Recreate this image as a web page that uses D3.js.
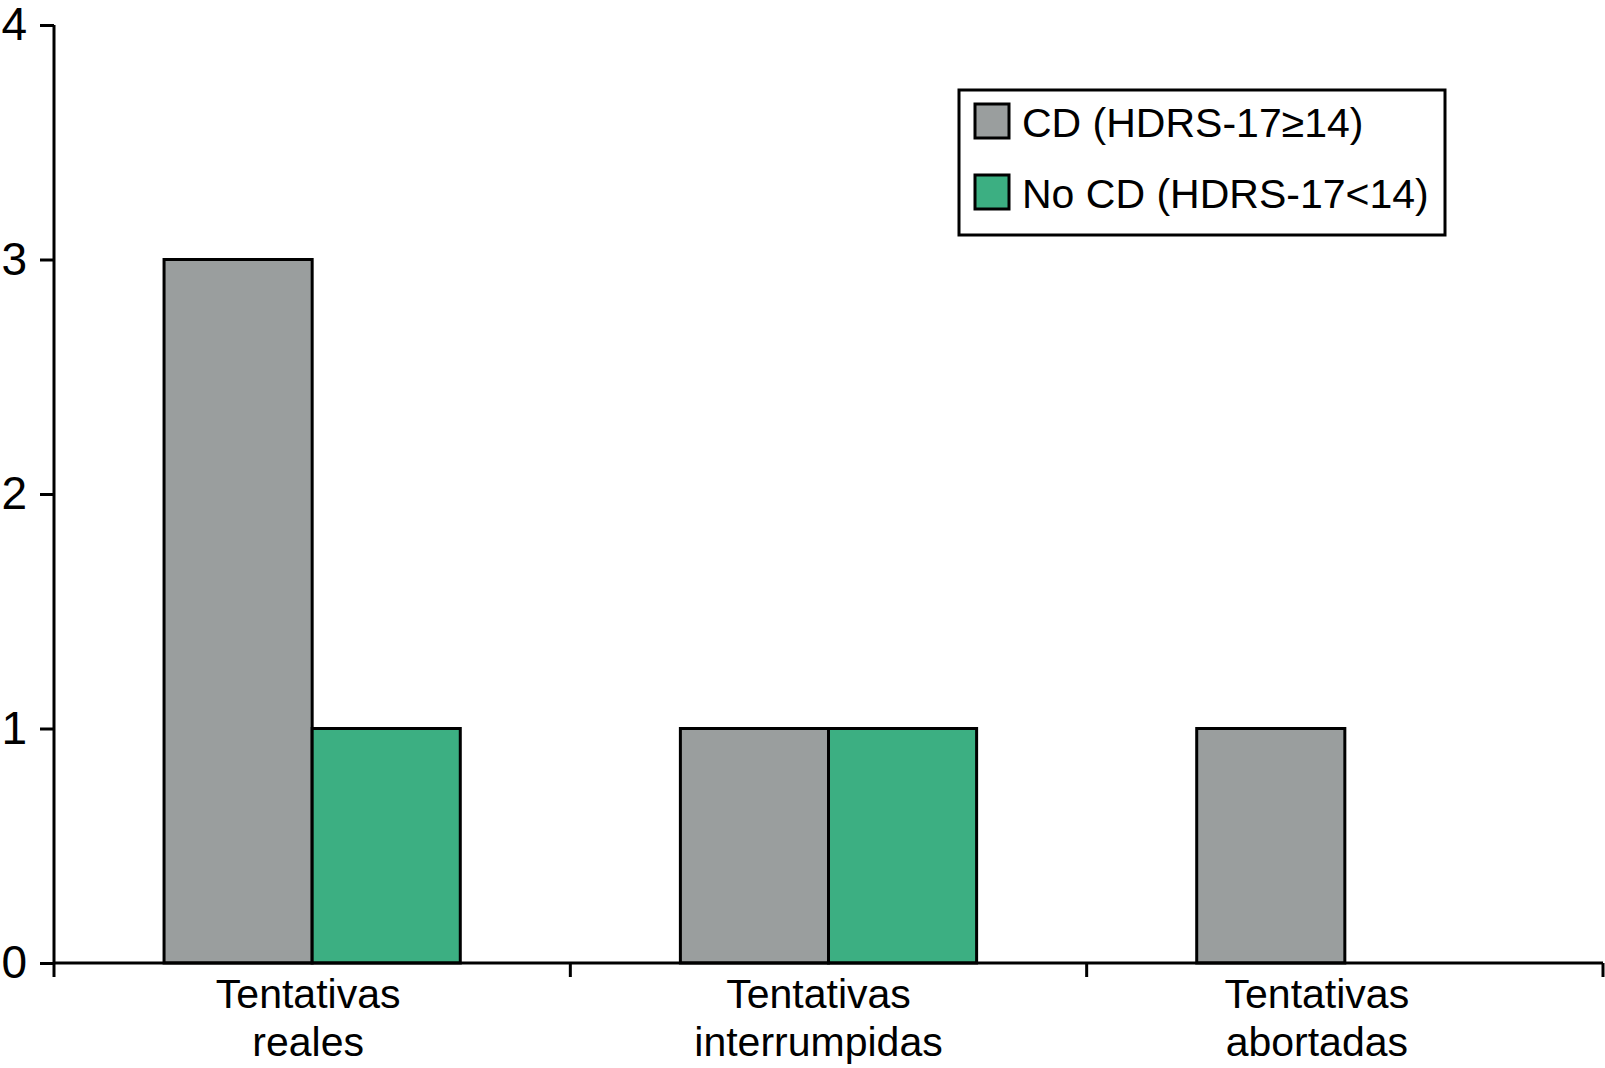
<!DOCTYPE html>
<html>
<head>
<meta charset="utf-8">
<script src="https://cdn.jsdelivr.net/npm/d3@7"></script>
<style>
  html, body { margin: 0; padding: 0; background: #fff; }
  svg { display: block; font-family: "Liberation Sans", Arial, sans-serif; }
</style>
</head>
<body>
<svg id="chart" width="1605" height="1068"></svg>
<script>
const categories = [["Tentativas", "reales"], ["Tentativas", "interrumpidas"], ["Tentativas", "abortadas"]];
const seriesNames = ["CD (HDRS-17\u226514)", "No CD (HDRS-17<14)"];
const seriesColors = ["#9a9e9e", "#3caf82"];
const cdValues = [3, 1, 1];
const noCdValues = [1, 1, 0];
const yTicks = [0, 1, 2, 3, 4];

const svg = d3.select("#chart");
const plotLeft = 54, plotRight = 1603, plotTop = 25, plotBottom = 963;
// labels in the original sit a little left of their band centre
const labelNudge = [-4, -10, -28];

const catKeys = categories.map((c) => c.join(" "));
const x0 = d3.scaleBand().domain(catKeys).range([plotLeft, plotRight]).paddingInner(0).paddingOuter(0);
const x1 = d3.scaleBand().domain(seriesNames).range([0, x0.bandwidth()]).paddingInner(0).paddingOuter(0.743);
const y = d3.scaleLinear().domain([0, 4]).range([plotBottom, plotTop]);

// bars
const rows = catKeys.map((key, i) => ({ key, values: [cdValues[i], noCdValues[i]] }));
const groups = svg.append("g").selectAll("g")
  .data(rows)
  .enter()
  .append("g")
  .attr("transform", (d) => `translate(${x0(d.key)},0)`);

groups.selectAll("rect")
  .data((d) => d.values.map((v, j) => ({ name: seriesNames[j], v, j })).filter((b) => b.v > 0))
  .enter()
  .append("rect")
  .attr("x", (b) => x1(b.name))
  .attr("y", (b) => y(b.v))
  .attr("width", x1.bandwidth())
  .attr("height", (b) => y(0) - y(b.v))
  .attr("fill", (b) => seriesColors[b.j])
  .attr("stroke", "#000")
  .attr("stroke-width", 3);

// y axis
const yAxis = svg.append("g")
  .attr("transform", `translate(${plotLeft},0)`)
  .call(d3.axisLeft(y).tickValues(yTicks).tickFormat(d3.format("d")).tickSize(14).tickPadding(13));
yAxis.select(".domain").attr("stroke", "#000").attr("stroke-width", 3).attr("d", `M0,${plotTop}V${plotBottom}`);
yAxis.selectAll(".tick line").attr("stroke", "#000").attr("stroke-width", 3);
yAxis.selectAll(".tick text").attr("font-size", 46).attr("fill", "#000").attr("font-family", "Liberation Sans, Arial, sans-serif");

// x axis
const xAxis = svg.append("g")
  .attr("transform", `translate(0,${plotBottom})`)
  .call(d3.axisBottom(x0).tickSize(0).tickPadding(0));
xAxis.select(".domain").attr("stroke", "#000").attr("stroke-width", 3).attr("d", `M${plotLeft - 1},0H${plotRight}`);
xAxis.selectAll(".tick text").each(function (d, i) {
  const t = d3.select(this).text(null)
    .attr("font-size", 41)
    .attr("fill", "#000")
    .attr("font-family", "Liberation Sans, Arial, sans-serif")
    .attr("y", 0).attr("dy", null);
  categories[i].forEach((line, k) => {
    t.append("tspan").attr("x", labelNudge[i]).attr("y", 45 + k * 48).text(line);
  });
});

// boundary ticks between categories
const edges = [plotLeft].concat(catKeys.map((k) => x0(k) + x0.bandwidth()));
xAxis.selectAll(".edge")
  .data(edges)
  .enter()
  .append("line")
  .attr("class", "edge")
  .attr("x1", (d) => d).attr("x2", (d) => d)
  .attr("y1", 0).attr("y2", 14)
  .attr("stroke", "#000").attr("stroke-width", 3);

// legend
const legend = svg.append("g").attr("transform", "translate(959,90)");
legend.append("rect")
  .attr("x", 0).attr("y", 0).attr("width", 486).attr("height", 145)
  .attr("fill", "#fff").attr("stroke", "#000").attr("stroke-width", 3);
const items = legend.selectAll(".item")
  .data(seriesNames)
  .enter()
  .append("g")
  .attr("class", "item")
  .attr("transform", (d, i) => `translate(16,${14 + i * 71})`);
items.append("rect")
  .attr("width", 34).attr("height", 34)
  .attr("fill", (d, i) => seriesColors[i])
  .attr("stroke", "#000").attr("stroke-width", 3);
items.append("text")
  .attr("x", 47).attr("y", 33)
  .attr("font-size", 41)
  .attr("fill", "#000")
  .text((d) => d);
</script>
</body>
</html>
